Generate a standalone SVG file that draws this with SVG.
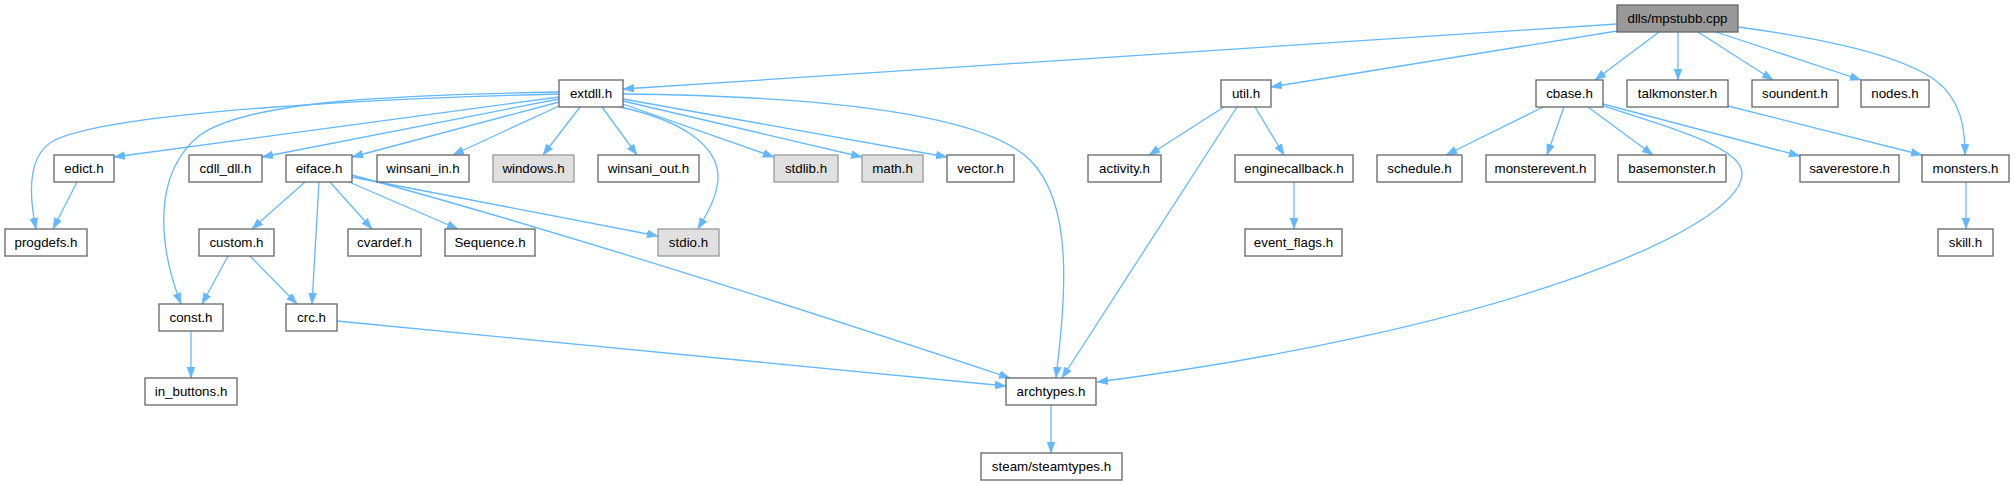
<svg xmlns="http://www.w3.org/2000/svg" width="2015" height="485" viewBox="0 0 2015 485">
<style>
.n rect{fill:#ffffff;stroke:#666666;stroke-width:1.3}
.g rect{fill:#e0e0e0;stroke:#999999;stroke-width:1.3}
.r rect{fill:#999999;stroke:#666666;stroke-width:1.3}
text{font-family:"Liberation Sans",Arial,sans-serif;font-size:13.33px;fill:#000000;text-anchor:middle}
#edges path{fill:none;stroke:#63b8ff;stroke-width:1.3;marker-end:url(#ah)}
</style>
<defs>
<marker id="ah" markerUnits="userSpaceOnUse" markerWidth="12" markerHeight="10" refX="11" refY="4" orient="auto">
<path d="M0,0 L11,4 L0,8 z" fill="#63b8ff" stroke="#63b8ff" stroke-width="0.5"/>
</marker>
</defs>
<rect width="2015" height="485" fill="#ffffff"/>
<g id="edges">
<path d="M1617,24 L623,89"/>
<path d="M1617,31 L1271,87"/>
<path d="M1659,32 L1595,80"/>
<path d="M1678,32 L1678,80"/>
<path d="M1698,32 L1773,80"/>
<path d="M1716,32 L1861,80"/>
<path d="M1738,27 C1820,38 1900,55 1935,80 C1962,100 1965,130 1965,155"/>
<path d="M559,94 C400,98 120,110 55,140 C25,155 30,200 36,229"/>
<path d="M559,92 C400,95 250,100 200,135 C150,175 160,250 181,304"/>
<path d="M559,97 L114,157"/>
<path d="M559,99 L262,157"/>
<path d="M559,102 L352,157"/>
<path d="M559,106 L453,155"/>
<path d="M580,107 L543,155"/>
<path d="M602,107 L637,155"/>
<path d="M623,104 L774,157"/>
<path d="M623,101 L862,157"/>
<path d="M623,99 L947,157"/>
<path d="M620,107 C680,120 720,145 718,180 C716,200 706,215 698,229"/>
<path d="M623,94 C800,96 980,110 1030,160 C1075,205 1065,300 1056,378"/>
<path d="M77,182 L53,229"/>
<path d="M305,182 L252,229"/>
<path d="M319,182 L312,304"/>
<path d="M330,182 L372,229"/>
<path d="M349,182 L458,229"/>
<path d="M352,177 L658,236"/>
<path d="M352,175 C500,215 700,275 1010,378"/>
<path d="M228,256 L202,304"/>
<path d="M250,256 L297,304"/>
<path d="M191,331 L191,378"/>
<path d="M337,321 L1006,386"/>
<path d="M1224,107 L1149,155"/>
<path d="M1255,107 L1284,155"/>
<path d="M1237,107 L1062,378"/>
<path d="M1294,182 L1294,229"/>
<path d="M1543,107 L1446,155"/>
<path d="M1564,107 L1547,155"/>
<path d="M1588,107 L1653,155"/>
<path d="M1603,104 L1800,156"/>
<path d="M1603,106 C1680,130 1745,150 1742,175 C1738,230 1500,330 1097,382"/>
<path d="M1728,106 L1922,155"/>
<path d="M1966,182 L1966,229"/>
<path d="M1051,405 L1051,453"/>
</g>
<g id="mpstubb" class="r"><rect x="1617" y="5" width="121" height="27"/><text x="1677.5" y="23">dlls/mpstubb.cpp</text></g>
<g id="extdll" class="n"><rect x="559" y="80" width="64" height="27"/><text x="591" y="98">extdll.h</text></g>
<g id="util" class="n"><rect x="1221" y="80" width="50" height="27"/><text x="1246" y="98">util.h</text></g>
<g id="cbase" class="n"><rect x="1536" y="80" width="67" height="27"/><text x="1569.5" y="98">cbase.h</text></g>
<g id="talkmonster" class="n"><rect x="1627" y="80" width="101" height="27"/><text x="1677.5" y="98">talkmonster.h</text></g>
<g id="soundent" class="n"><rect x="1752" y="80" width="86" height="27"/><text x="1795" y="98">soundent.h</text></g>
<g id="nodes" class="n"><rect x="1861" y="80" width="68" height="27"/><text x="1895" y="98">nodes.h</text></g>
<g id="edict" class="n"><rect x="54" y="155" width="60" height="27"/><text x="84" y="173">edict.h</text></g>
<g id="cdll_dll" class="n"><rect x="189" y="155" width="73" height="27"/><text x="225.5" y="173">cdll_dll.h</text></g>
<g id="eiface" class="n"><rect x="286" y="155" width="66" height="27"/><text x="319" y="173">eiface.h</text></g>
<g id="winsani_in" class="n"><rect x="377" y="155" width="92" height="27"/><text x="423" y="173">winsani_in.h</text></g>
<g id="windows" class="g"><rect x="493" y="155" width="81" height="27"/><text x="533.5" y="173">windows.h</text></g>
<g id="winsani_out" class="n"><rect x="598" y="155" width="101" height="27"/><text x="648.5" y="173">winsani_out.h</text></g>
<g id="stdlib" class="g"><rect x="774" y="155" width="64" height="27"/><text x="806" y="173">stdlib.h</text></g>
<g id="math" class="g"><rect x="862" y="155" width="61" height="27"/><text x="892.5" y="173">math.h</text></g>
<g id="vector" class="n"><rect x="947" y="155" width="67" height="27"/><text x="980.5" y="173">vector.h</text></g>
<g id="activity" class="n"><rect x="1088" y="155" width="73" height="27"/><text x="1124.5" y="173">activity.h</text></g>
<g id="enginecallback" class="n"><rect x="1235" y="155" width="118" height="27"/><text x="1294" y="173">enginecallback.h</text></g>
<g id="schedule" class="n"><rect x="1377" y="155" width="85" height="27"/><text x="1419.5" y="173">schedule.h</text></g>
<g id="monsterevent" class="n"><rect x="1486" y="155" width="109" height="27"/><text x="1540.5" y="173">monsterevent.h</text></g>
<g id="basemonster" class="n"><rect x="1618" y="155" width="108" height="27"/><text x="1672" y="173">basemonster.h</text></g>
<g id="saverestore" class="n"><rect x="1800" y="155" width="99" height="27"/><text x="1849.5" y="173">saverestore.h</text></g>
<g id="monsters" class="n"><rect x="1922" y="155" width="87" height="27"/><text x="1965.5" y="173">monsters.h</text></g>
<g id="progdefs" class="n"><rect x="5" y="229" width="82" height="27"/><text x="46" y="247">progdefs.h</text></g>
<g id="custom" class="n"><rect x="199" y="229" width="75" height="27"/><text x="236.5" y="247">custom.h</text></g>
<g id="cvardef" class="n"><rect x="348" y="229" width="73" height="27"/><text x="384.5" y="247">cvardef.h</text></g>
<g id="Sequence" class="n"><rect x="445" y="229" width="90" height="27"/><text x="490" y="247">Sequence.h</text></g>
<g id="stdio" class="g"><rect x="658" y="229" width="61" height="27"/><text x="688.5" y="247">stdio.h</text></g>
<g id="event_flags" class="n"><rect x="1245" y="229" width="97" height="27"/><text x="1293.5" y="247">event_flags.h</text></g>
<g id="skill" class="n"><rect x="1938" y="229" width="55" height="27"/><text x="1965.5" y="247">skill.h</text></g>
<g id="const" class="n"><rect x="159" y="304" width="64" height="27"/><text x="191" y="322">const.h</text></g>
<g id="crc" class="n"><rect x="286" y="304" width="51" height="27"/><text x="311.5" y="322">crc.h</text></g>
<g id="in_buttons" class="n"><rect x="145" y="378" width="92" height="27"/><text x="191" y="396">in_buttons.h</text></g>
<g id="archtypes" class="n"><rect x="1006" y="378" width="90" height="27"/><text x="1051" y="396">archtypes.h</text></g>
<g id="steamtypes" class="n"><rect x="981" y="453" width="141" height="27"/><text x="1051.5" y="471">steam/steamtypes.h</text></g>
</svg>
